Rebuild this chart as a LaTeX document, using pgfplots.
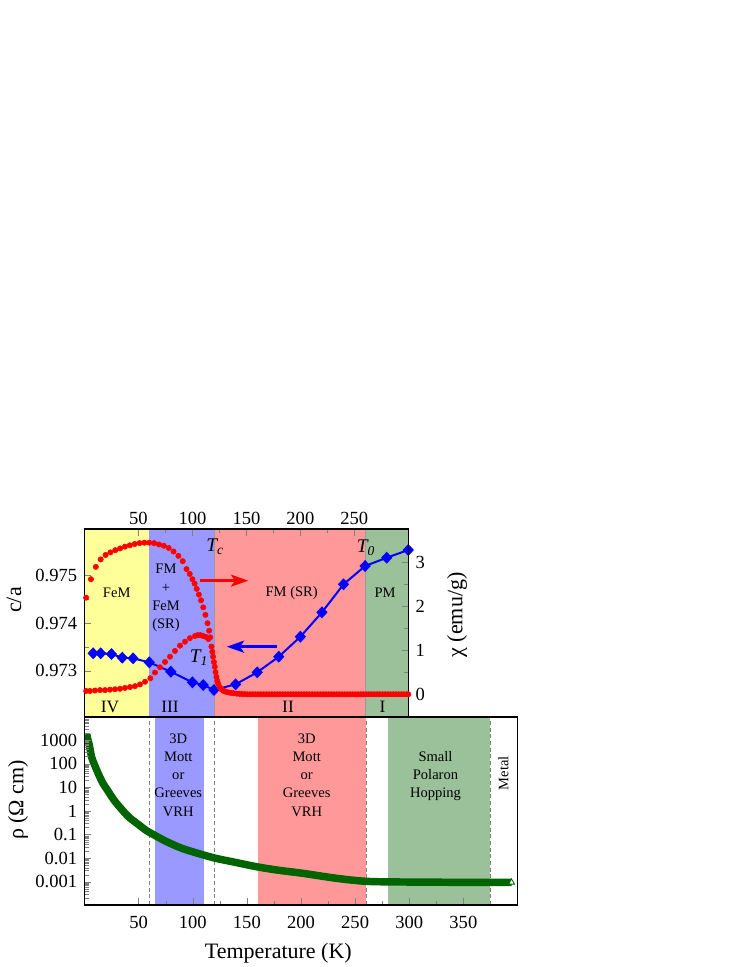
\documentclass[border=0pt]{standalone}
\usepackage{fontspec}
\setmainfont{Liberation Serif}
\usepackage{pgfplots}
\pgfplotsset{compat=1.18}
\usetikzlibrary{arrows.meta}
\definecolor{yR}{RGB}{255,255,153}
\definecolor{bR}{RGB}{153,153,255}
\definecolor{pR}{RGB}{255,153,153}
\definecolor{gR}{RGB}{155,193,155}
\definecolor{dgreen}{RGB}{0,100,0}
\definecolor{bl}{RGB}{0,0,255}
\definecolor{rd}{RGB}{255,0,0}
\newcommand{\tickfont}{\fontsize{13.9}{15}\selectfont}
\newcommand{\labfont}{\fontsize{16.5}{18}\selectfont}
\newcommand{\annfont}{\fontsize{10.9}{13.7}\selectfont}
\newcommand{\romfont}{\fontsize{13}{15}\selectfont}
\newcommand{\tfont}{\fontsize{14.5}{16}\selectfont}
\begin{document}
\begin{tikzpicture}[x=0.75pt,y=0.75pt]
\useasboundingbox (0,0) rectangle (747,967);
% ---------------- top panel, c/a ----------------
\begin{axis}[
  at={(63.375pt,187.5pt)}, anchor=south west, scale only axis,
  width=242.85pt, height=141pt,
  xmin=0, xmax=300, ymin=0.972034, ymax=0.975975,
  axis on top, clip mode=individual,
  tick align=inside,
  xtick={50,100,...,250}, minor x tick num=1,
  xtick pos=right, xticklabel pos=right,
  ytick={0.973,0.974,0.975}, yticklabels={0.973,0.974,0.975}, minor y tick num=1,
  ytick pos=left, scaled y ticks=false,
  tick label style={font=\tickfont},
  yticklabel style={xshift=-2pt},
  /pgf/number format/assume math mode=true,
  major tick length=5pt, minor tick length=3pt,
  axis line style={line width=0.8pt},
]
\fill[yR] (axis cs:0,0.972034) rectangle (axis cs:60,0.975975);
\fill[bR] (axis cs:60,0.972034) rectangle (axis cs:120,0.975975);
\fill[pR] (axis cs:120,0.972034) rectangle (axis cs:260,0.975975);
\fill[gR] (axis cs:260,0.972034) rectangle (axis cs:300,0.975975);
\draw[gray!80, line width=0.4pt] (axis cs:120,0.972034) -- (axis cs:120,0.975975);
\draw[gray!80, line width=0.4pt] (axis cs:260,0.972034) -- (axis cs:260,0.975975);
\addplot[bl, line width=1.5pt, mark=diamond*, mark size=3.4pt, mark options={fill=bl, draw=bl, xscale=1.25}] coordinates {
(8,0.973369) (15,0.973369) (25,0.973354) (35,0.973277) (45,0.973264) (60,0.973180)
(80,0.972983) (100,0.972761) (110,0.972704) (120,0.972600) (140,0.972719)
(160,0.972971) (180,0.973298) (200,0.973717) (220,0.974228) (240,0.974816)
(260,0.975199) (280,0.975373) (300,0.975535)};
\end{axis}
% ---------------- top panel, chi ----------------
\begin{axis}[
  at={(63.375pt,187.5pt)}, anchor=south west, scale only axis,
  width=242.85pt, height=141pt,
  xmin=0, xmax=300, ymin=-0.511, ymax=3.761,
  hide x axis, axis y line*=right, clip mode=individual,
  tick align=inside,
  ytick={0,1,2,3}, minor y tick num=1,
  tick label style={font=\tickfont},
  yticklabel style={xshift=2pt},
  /pgf/number format/assume math mode=true,
  major tick length=5pt, minor tick length=3pt,
  axis line style={line width=0.8pt},
]
\addplot[only marks, mark=*, mark size=2pt, rd] coordinates {
(1.5,2.20) (6,2.62) (10.5,2.90) (15,3.07) (19.5,3.17) (24,3.23) (28.5,3.28) (33,3.32)
(37.5,3.36) (42,3.39) (46.5,3.42) (51,3.44) (55.5,3.45) (60,3.45) (64.5,3.44) (69,3.41)
(73.5,3.38) (78,3.33) (82.5,3.25) (87,3.15) (91,3.03) (94.5,2.85) (97.5,2.74) (100,2.62)
(102,2.52) (104,2.40) (106,2.27) (108,2.14) (110,1.98) (112,1.81) (114,1.62) (115.5,1.45)
(116.5,1.30) (117.6,1.09) (118.4,0.97) (119.1,0.86) (119.9,0.74) (120.7,0.63) (121.4,0.51)
(122.2,0.40) (123,0.31) (123.7,0.25) (125.3,0.17) (126.9,0.12) (128.5,0.09) (130,0.07)
(131.5,0.06) (134,0.045) (136,0.035) (138,0.03) (141,0.02) (143.5,0.015) (146,0.01) (148.5,0.008)
(151,0.005) (153.5,0.005) (156,0.005) (158.5,0.005) (161,0.005) (163.5,0.005) (166,0.005)
(168.5,0.005) (171,0.005) (173.5,0.005) (176,0.005) (178.5,0.005) (181,0.005) (183.5,0.005)
(186,0.005) (188.5,0.005) (191,0.005) (193.5,0.005) (196,0.005) (198.5,0.005) (201,0.005)
(203.5,0.005) (206,0.005) (208.5,0.005) (211,0.005) (213.5,0.005) (216,0.005) (218.5,0.005)
(221,0.005) (223.5,0.005) (226,0.005) (228.5,0.005) (231,0.005) (233.5,0.005) (236,0.005)
(238.5,0.005) (241,0.005) (243.5,0.005) (246,0.005) (248.5,0.005) (251,0.005) (253.5,0.005)
(256,0.005) (258.5,0.005) (261,0.005) (263.5,0.005) (266,0.005) (268.5,0.005) (271,0.005)
(273.5,0.005) (276,0.005) (278.5,0.005) (281,0.005) (283.5,0.005) (286,0.005) (288.5,0.005)
(291,0.005) (293.5,0.005) (296,0.005) (298.5,0.005) (300,0.005)};
\addplot[only marks, mark=*, mark size=2pt, rd] coordinates {
(1.5,0.08) (5,0.08) (9.7,0.09) (14.4,0.10) (19,0.10) (23.6,0.11) (28.3,0.12) (32.9,0.13)
(37.5,0.15) (42.2,0.17) (46.8,0.19) (51.4,0.23) (56.1,0.29) (61,0.37) (65.3,0.50) (69.9,0.62)
(74.6,0.74) (79.2,0.86) (83.8,0.99) (88.5,1.11) (93.1,1.20) (97.7,1.28) (102.4,1.33)
(105,1.35) (107.5,1.35) (110,1.33) (112.5,1.31) (114.7,1.26)};
\end{axis}
% ---------------- bottom panel, rho ----------------
\begin{axis}[
  at={(63.375pt,46.5pt)}, anchor=south west, scale only axis,
  width=324.75pt, height=141pt,
  xmin=0, xmax=400, ymode=log, ymin=1.05e-4, ymax=9.5e3,
  axis on top, clip mode=individual,
  tick align=inside,
  xtick={50,100,...,350}, minor x tick num=1, xtick pos=left,
  ytick={1e-3,1e-2,1e-1,1,10,100,1000},
  yticklabels={0.001,0.01,0.1,1,10,100,1000},
  minor ytick={2e-4,3e-4,4e-4,5e-4,6e-4,7e-4,8e-4,9e-4,
    2e-3,3e-3,4e-3,5e-3,6e-3,7e-3,8e-3,9e-3,
    2e-2,3e-2,4e-2,5e-2,6e-2,7e-2,8e-2,9e-2,
    0.2,0.3,0.4,0.5,0.6,0.7,0.8,0.9,2,3,4,5,6,7,8,9,
    20,30,40,50,60,70,80,90,200,300,400,500,600,700,800,900,
    2000,3000,4000,5000,6000,7000,8000,9000},
  ytick pos=left,
  tick label style={font=\tickfont},
  yticklabel style={xshift=-2pt},
  xticklabel style={yshift=-5pt},
  /pgf/number format/assume math mode=true,
  major tick length=5pt, minor tick length=3pt,
  axis line style={line width=0.8pt},
]
\fill[bR] (axis cs:65,1.05e-4) rectangle (axis cs:110,9.5e3);
\fill[pR] (axis cs:160,1.05e-4) rectangle (axis cs:260,9.5e3);
\fill[gR] (axis cs:280,1.05e-4) rectangle (axis cs:375,9.5e3);
\draw[gray, densely dashed, line width=0.4pt] (axis cs:60,1.05e-4) -- (axis cs:60,9.5e3);
\draw[gray, densely dashed, line width=0.4pt] (axis cs:120,1.05e-4) -- (axis cs:120,9.5e3);
\draw[gray, densely dashed, line width=0.4pt] (axis cs:260,1.05e-4) -- (axis cs:260,9.5e3);
\draw[gray, densely dashed, line width=0.4pt] (axis cs:375,1.05e-4) -- (axis cs:375,9.5e3);
\addplot[dgreen, line width=5.6pt, smooth, tension=0.5] coordinates {
(2,1800) (3,1100) (4.5,600) (6.7,182) (9.5,85) (13.1,35) (17,15) (21.8,6.9) (27,3)
(33.2,1.35) (41,0.55) (50.2,0.26) (57,0.15) (64.1,0.098) (76,0.05) (90.3,0.026)
(105,0.016) (121,0.0100) (136.7,0.0071) (159,0.00437) (178,0.00316) (202,0.00229)
(233,0.00141) (258,0.00107) (280,0.00100) (310,0.00098) (341,0.00096) (394.5,0.00095)};
\addplot[only marks, mark=triangle*, mark size=2.6pt, mark options={fill=white, draw=dgreen, line width=0.6pt}] coordinates {(394.5,0.00095)};
\end{axis}
% ---------------- annotations ----------------
\node[font=\annfont] at (116.7,374) {FeM};
\node[font=\annfont, align=center] at (166,369) {FM\\+\\FeM\\(SR)};
\node[font=\annfont] at (291.7,374) {FM (SR)};
\node[font=\annfont] at (385,374) {PM};
\node[font=\romfont] at (110,260.5) {IV};
\node[font=\romfont] at (170,260.5) {III};
\node[font=\romfont] at (288,260.5) {II};
\node[font=\romfont] at (382.5,260.5) {I};
\node[font=\tfont] at (215,420) {\textit{T\textsubscript{c}}};
\node[font=\tfont] at (366,419) {\textit{T\textsubscript{0}}};
\node[font=\tfont] at (199,309) {\textit{T\textsubscript{1}}};
\draw[rd, line width=2pt, -{Stealth[length=13pt, width=9pt, inset=3pt]}] (200,386.3) -- (248.3,386.3);
\draw[bl, line width=2pt, -{Stealth[length=13pt, width=9pt, inset=3pt]}] (276.7,320.3) -- (226.7,320.3);
\node[font=\annfont, align=center] at (178.3,192) {3D\\Mott\\or\\Greeves\\VRH};
\node[font=\annfont, align=center] at (306.7,192) {3D\\Mott\\or\\Greeves\\VRH};
\node[font=\annfont, align=center] at (435.5,191) {Small\\Polaron\\Hopping};
\node[font=\annfont, rotate=90] at (503.3,193.7) {Metal};
\node[font=\labfont, rotate=90] at (14,367) {c/a};
\node[font=\labfont, rotate=90] at (457,352) {χ (emu/g)};
\node[font=\labfont, rotate=90] at (18,167) {ρ (Ω cm)};
\node[font=\labfont] at (278.3,14) {Temperature (K)};
\end{tikzpicture}
\end{document}
